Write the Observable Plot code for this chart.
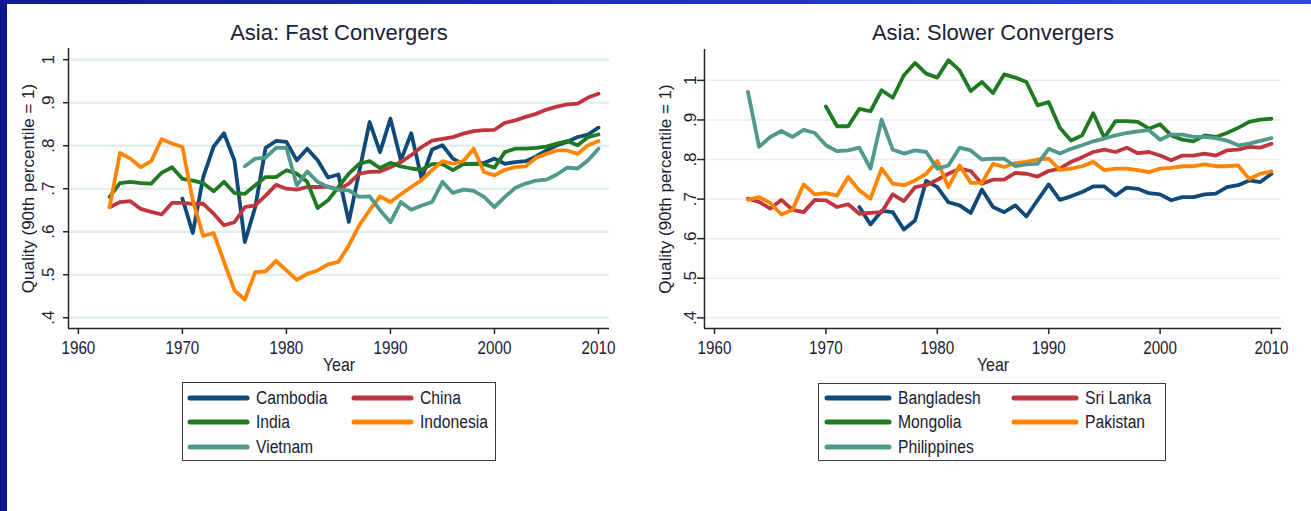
<!DOCTYPE html>
<html><head><meta charset="utf-8">
<script src="https://cdn.jsdelivr.net/npm/d3@7"></script>
<script src="https://cdn.jsdelivr.net/npm/@observablehq/plot@0.6"></script>
<style>
html,body{margin:0;padding:0;background:#fff;}
body{width:1311px;height:511px;position:relative;overflow:hidden;font-family:"Liberation Sans",Arial,sans-serif;color:#1b2033;}
#leftbar{position:absolute;left:0;top:0;width:7px;height:511px;background:#0c1590;}
#topbar{position:absolute;left:0;top:0;width:1311px;height:4px;background:linear-gradient(to right,#0f1a92,#2c4bd6);}
.panel{position:absolute;top:0;}
.title{position:absolute;top:20px;font-family:"Liberation Sans",Arial,sans-serif;font-size:22px;color:#1b2236;white-space:nowrap;transform:translateX(-50%);}
.legend{position:absolute;border:1.5px solid #3a3a3a;box-sizing:border-box;background:#fff;}
.item{position:absolute;height:20px;display:flex;align-items:center;font-size:18px;white-space:nowrap;}
.item svg{display:block;}
.item span{display:inline-block;transform:scaleX(0.87);transform-origin:left center;}
</style>
</head><body>
<div id="leftbar"></div><div id="topbar"></div>
<div id="p1" class="panel" style="left:0;"></div>
<div id="p2" class="panel" style="left:650px;"></div>
<div class="title" style="left:339px;">Asia: Fast Convergers</div>
<div class="title" style="left:993px;">Asia: Slower Convergers</div>
<div id="leg1" class="legend" style="left:182px;top:382px;width:314px;height:79px;"></div>
<div id="leg2" class="legend" style="left:818px;top:383px;width:348px;height:78px;"></div>
<script>
const years = [1963,1964,1965,1966,1967,1968,1969,1970,1971,1972,1973,1974,1975,1976,1977,1978,1979,1980,1981,1982,1983,1984,1985,1986,1987,1988,1989,1990,1991,1992,1993,1994,1995,1996,1997,1998,1999,2000,2001,2002,2003,2004,2005,2006,2007,2008,2009,2010];
const xTicks = [1960,1970,1980,1990,2000,2010];
const yTicks = [0.4,0.5,0.6,0.7,0.8,0.9,1];
const colors = ["#0f4a78","#c0363f","#1f7a22","#ff8500","#4f9a8c"];

// Fast convergers
const fastNames = ["Cambodia","China","India","Indonesia","Vietnam"];
const cambodia = [null,null,null,null,null,null,null,
  .677,.597,.727,.798,.829,.766,.576,.657,.795,.811,
  .809,.766,.793,.766,.726,.733,.623,.74,.855,.785,
  .863,.766,.829,.723,.791,.801,.77,.757,.758,.76,
  .77,.758,.762,.764,.775,.789,.801,.809,.82,.826,.842];
const china = [.657,.669,.671,.653,.646,.64,.667,
  .667,.665,.665,.642,.615,.622,.657,.661,.684,.709,
  .7,.698,.704,.704,.705,.698,.712,.735,.739,.74,
  .75,.762,.778,.797,.812,.816,.82,.828,.834,.836,
  .837,.853,.859,.867,.874,.884,.891,.896,.898,.912,.921];
const india = [.681,.713,.716,.713,.712,.737,.75,
  .723,.719,.713,.694,.716,.69,.688,.708,.727,.727,
  .743,.735,.716,.655,.673,.704,.735,.758,.764,.748,
  .76,.752,.747,.744,.757,.757,.743,.757,.757,.757,
  .749,.785,.793,.793,.795,.798,.805,.811,.801,.82,.826];
const indonesia = [.657,.783,.77,.75,.764,.815,.805,
  .797,.673,.59,.597,.53,.464,.442,.506,.508,.532,
  .51,.488,.502,.51,.524,.53,.568,.615,.65,.682,
  .669,.687,.704,.72,.743,.764,.758,.764,.793,.739,
  .731,.744,.75,.752,.772,.781,.789,.789,.781,.801,.811];
const vietnam = [null,null,null,null,null,null,null,null,null,null,null,null,null,
  .752,.77,.772,.795,
  .795,.708,.74,.716,.704,.698,.696,.681,.682,.65,
  .622,.669,.651,.661,.669,.716,.69,.698,.695,.681,
  .657,.681,.702,.712,.719,.721,.733,.749,.747,.766,.793];

// Slower convergers
const slowNames = ["Bangladesh","Sri Lanka","Mongolia","Pakistan","Philippines"];
const bangladesh = [null,null,null,null,null,null,null,null,null,null,
  .68,.636,.67,.667,.623,.646,.746,
  .73,.692,.684,.665,.724,.68,.667,.684,.656,.697,
  .737,.698,.707,.718,.732,.732,.709,.729,.726,.715,
  .712,.697,.705,.705,.712,.714,.73,.735,.747,.743,.764];
const sriLanka = [.701,.693,.676,.698,.673,.667,.698,
  .697,.68,.687,.663,.665,.667,.712,.695,.73,.735,
  .749,.764,.777,.771,.739,.749,.749,.766,.764,.757,
  .771,.777,.794,.806,.819,.825,.819,.83,.816,.819,
  .81,.798,.81,.81,.815,.81,.823,.825,.832,.83,.84];
const mongolia = [null,null,null,null,null,null,null,
  .934,.884,.884,.928,.922,.975,.956,1.013,1.044,1.017,
  1.007,1.051,1.025,.973,.996,.968,1.015,1.007,.996,.937,
  .945,.88,.848,.861,.917,.855,.897,.897,.895,.878,
  .889,.861,.85,.846,.861,.857,.867,.88,.895,.901,.903];
const pakistan = [.698,.705,.69,.661,.673,.737,.712,
  .715,.709,.756,.722,.701,.777,.739,.735,.747,.764,
  .796,.73,.785,.741,.741,.789,.781,.791,.794,.8,
  .802,.774,.777,.783,.794,.773,.777,.777,.773,.768,
  .777,.779,.783,.783,.788,.783,.783,.785,.751,.764,.77];
const philippines = [.971,.832,.857,.872,.857,.875,.867,
  .836,.821,.823,.83,.777,.901,.825,.815,.823,.819,
  .777,.785,.83,.823,.8,.802,.802,.783,.788,.789,
  .827,.815,.827,.836,.846,.853,.861,.867,.871,.874,
  .85,.863,.863,.857,.857,.854,.848,.836,.84,.847,.854];

const font = '"Liberation Sans",Arial,sans-serif';

function toRows(names, series) {
  const rows = [];
  names.forEach((n, k) => series[k].forEach((v, i) => { if (v != null) rows.push({year: years[i], value: v, country: n}); }));
  return rows;
}
const yFmt = d => d === 1 ? "1" : d.toFixed(1).replace(/^0/, "");

function makePanel(cfg) {
  const data = toRows(cfg.names, cfg.series);
  return Plot.plot({
    width: cfg.width, height: 375,
    marginLeft: cfg.ml, marginRight: cfg.mr, marginTop: cfg.mt, marginBottom: 47,
    style: {fontFamily: font, fontSize: "18px", color: "#1b2033", background: "transparent", overflow: "visible"},
    x: {domain: cfg.xDomain},
    y: {domain: cfg.yDomain},
    color: {domain: cfg.names, range: colors},
    marks: [
      Plot.gridY(yTicks, {stroke: cfg.grid, strokeOpacity: 1, strokeWidth: cfg.gridW}),
      Plot.line(data, {x: "year", y: "value", z: "country", stroke: "country", strokeWidth: 3.8, strokeLinejoin: "round", strokeLinecap: "round"}),
      Plot.ruleX([cfg.xDomain[0]], {stroke: "#262626", strokeWidth: 1.5}),
      Plot.ruleY([cfg.yDomain[0]], {stroke: "#262626", strokeWidth: 1.5}),
      Plot.axisX(xTicks, {tickSize: 6, tickPadding: 6, fontSize: 19, tickFormat: d => String(d), stroke: "#262626", strokeWidth: 1.5,
        label: "Year", labelAnchor: "center", labelArrow: "none", labelOffset: 42}),
      Plot.axisY(yTicks, {tickSize: cfg.tickY, tickRotate: -90, tickPadding: cfg.padY, fontSize: 17, tickFormat: yFmt, stroke: "#262626", strokeWidth: 1.5,
        label: "Quality (90th percentile = 1)", labelAnchor: "center", labelArrow: "none", labelOffset: cfg.labOff})
    ]
  });
}

function condense(svg, selector, k) {
  svg.querySelectorAll(selector).forEach(t => {
    const w = t.getComputedTextLength();
    if (w > 0) { t.setAttribute("textLength", (w * k).toFixed(2)); t.setAttribute("lengthAdjust", "spacingAndGlyphs"); }
  });
}

const p1 = makePanel({names: fastNames, series: [cambodia, china, india, indonesia, vietnam],
  width: 650, ml: 68, mr: 41, mt: 48, xDomain: [1959.05, 2011.06], yDomain: [0.375, 1.026],
  grid: "#e3eeef", gridW: 2.5, tickY: 5, padY: 10, labOff: 47});
document.getElementById("p1").appendChild(p1);

const p2 = makePanel({names: slowNames, series: [bangladesh, sriLanka, mongolia, pakistan, philippines],
  width: 661, ml: 54, mr: 30, mt: 49, xDomain: [1959.1, 2010.9], yDomain: [0.373, 1.078],
  grid: "#e6edf4", gridW: 1.5, tickY: 7, padY: 2, labOff: 46});
document.getElementById("p2").appendChild(p2);

for (const p of [p1, p2]) {
  condense(p, 'g[aria-label="x-axis tick label"] text', 0.8);
  condense(p, 'g[aria-label="x-axis label"] text', 0.84);
}

function makeLegend(id, plot, names, pos) {
  const color = plot.scale("color");
  const el = document.getElementById(id);
  names.forEach((n, k) => {
    const col = k % 2, row = Math.floor(k / 2);
    const p = pos[col];
    const it = document.createElement("div");
    it.className = "item";
    it.style.left = p.sx + "px";
    it.style.top = (pos.rows[row] - 10) + "px";
    const w = p.sw;
    it.innerHTML = `<svg width="${w}" height="8"><line x1="3" y1="4" x2="${w - 3}" y2="4" stroke="${color.apply(n)}" stroke-width="5" stroke-linecap="round"/></svg><span style="margin-left:${p.gap}px">${n}</span>`;
    el.appendChild(it);
  });
}
makeLegend("leg1", p1, fastNames, {0: {sx: 4, sw: 63, gap: 6}, 1: {sx: 168, sw: 63, gap: 6}, rows: [15, 39, 64]});
makeLegend("leg2", p2, slowNames, {0: {sx: 5, sw: 68, gap: 6}, 1: {sx: 192, sw: 68, gap: 6}, rows: [14, 38, 63]});
</script>
</body></html>
